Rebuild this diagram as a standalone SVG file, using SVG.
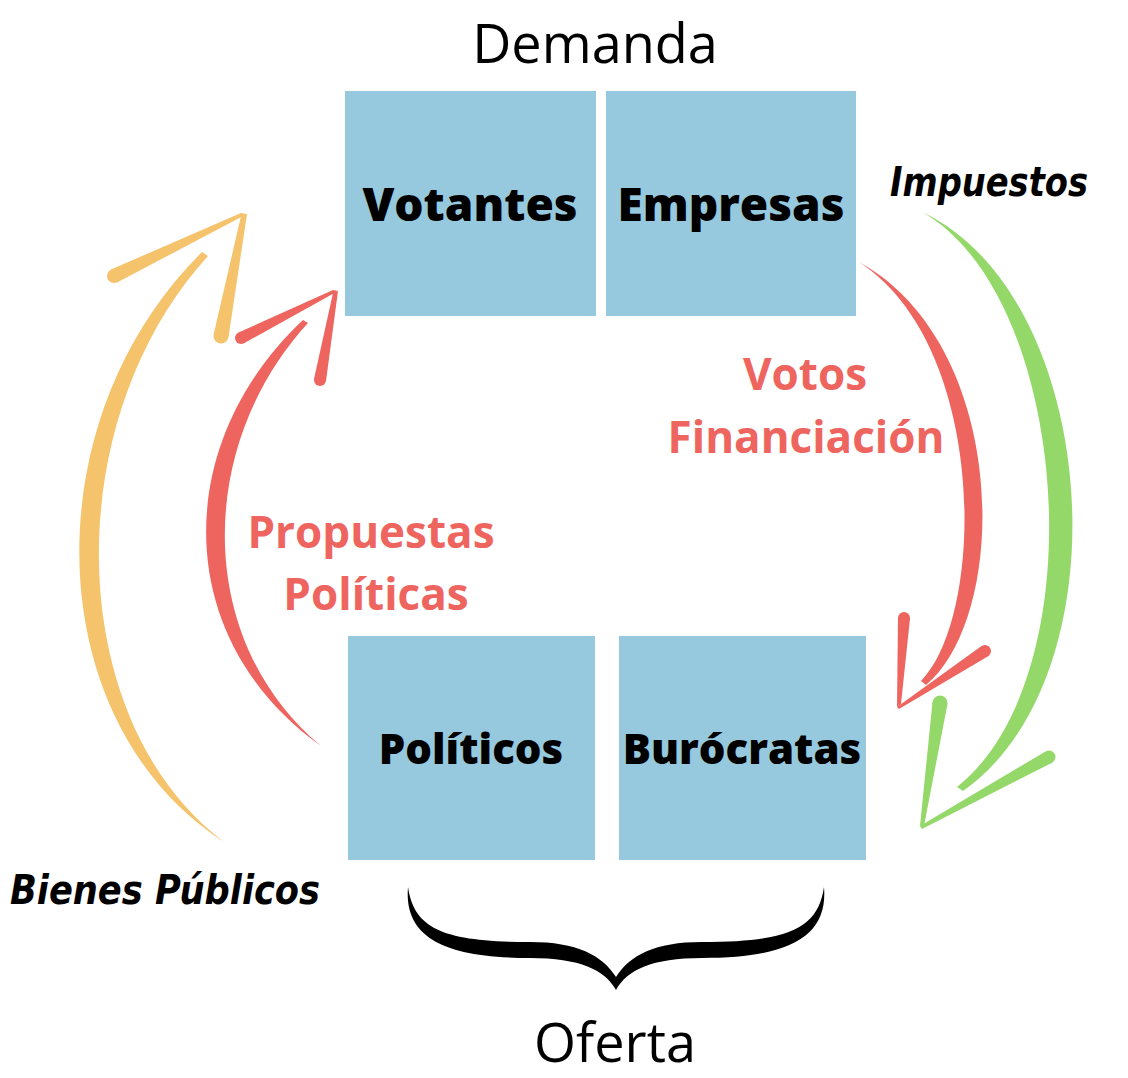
<svg xmlns="http://www.w3.org/2000/svg" width="1128" height="1078" viewBox="0 0 1128 1078">
<style>
.box{fill:#96c9de}
.lbl{font-family:"Open Sans","Liberation Sans",sans-serif;font-weight:800;fill:#000;text-anchor:middle}
.red{font-family:"Open Sans","Liberation Sans",sans-serif;font-weight:700;fill:#ee6560;text-anchor:middle;font-size:44px}
.title{font-family:"Open Sans","Liberation Sans",sans-serif;font-weight:400;fill:#000;text-anchor:middle;font-size:54px}
.script{font-family:"DejaVu Sans",sans-serif;font-weight:700;font-style:italic;fill:#000;font-size:40px}
.y{fill:#f4c36c}
.r{fill:#ee6560}
.g{fill:#95d86a}
</style>
<rect width="1128" height="1078" fill="#fff"/>
<text class="title" x="595" y="63">Demanda</text>
<text class="title" x="615" y="1062">Oferta</text>
<g id="votantes"><rect class="box" x="345" y="91" width="251" height="225"/><text class="lbl" x="470" y="221" font-size="46">Votantes</text></g>
<g id="empresas"><rect class="box" x="606" y="91" width="250" height="225"/><text class="lbl" x="731" y="221" font-size="46">Empresas</text></g>
<g id="politicos"><rect class="box" x="348" y="636" width="247" height="224"/><text class="lbl" x="471" y="764" font-size="42">Políticos</text></g>
<g id="burocratas"><rect class="box" x="619" y="636" width="247" height="224"/><text class="lbl" x="742" y="764" font-size="42">Burócratas</text></g>
<g id="connectors">
<g id="bienes-publicos">
<path class="y" d="M224,842 C38,722 32,420 202,252 L208,256 C58,420 62,720 224,842 Z"/>
<path class="y" d="M247,214 L117,282.5 L111,269.5 L241,213 Z"/><circle class="y" cx="114" cy="276" r="7"/>
<path class="y" d="M247,214 L228.5,337 L213.5,335 L241,216 Z"/><circle class="y" cx="221" cy="336" r="7.5"/>
</g>
<g id="propuestas">
<path class="r" d="M321,746 C172,640 170,445 303,320 L308,323 C196,445 194,640 321,746 Z"/>
<path class="r" d="M338,291 L243.5,343.5 L238.5,332.5 L333,290 Z"/><circle class="r" cx="241" cy="338" r="6"/>
<path class="r" d="M338,291 L326,381 L314,379 L333,293 Z"/><circle class="r" cx="320" cy="380" r="6"/>
</g>
<g id="votos">
<path class="r" d="M859,262 C1010,345 1010,615 926,685 L921,681 C986,615 988,345 859,262 Z"/>
<path class="r" d="M897,707 L898,617.5 L910,618.5 L901,704 Z"/><circle class="r" cx="904" cy="618" r="6"/>
<path class="r" d="M897,707 L981.5,646 L988.5,656 L899,709 Z"/><circle class="r" cx="985" cy="651" r="6"/>
</g>
<g id="impuestos">
<path class="g" d="M922,212 C1100,295 1128,675 963,791 L957,787 C1098,675 1070,295 922,212 Z"/>
<path class="g" d="M920,826 L932.5,702 L947.5,704 L924,826 Z"/><circle class="g" cx="940" cy="703" r="7.5"/>
<path class="g" d="M920,826 L1045.5,751.5 L1052.5,762.5 L922,829 Z"/><circle class="g" cx="1049" cy="757" r="6.5"/>
</g>
</g>
<text class="red" x="805" y="390">Votos</text>
<text class="red" x="806" y="453">Financiación</text>
<text class="red" x="371" y="548">Propuestas</text>
<text class="red" x="376" y="610">Políticas</text>
<text class="script" x="890" y="196" textLength="198" lengthAdjust="spacingAndGlyphs">Impuestos</text>
<text class="script" x="10" y="904" textLength="310" lengthAdjust="spacingAndGlyphs">Bienes Públicos</text>
<g id="brace">
<path fill="#000" d="M408,887 C404,935 440,958 530,958 C580,958 605,970 616,990 C627,970 652,958 702,958 C792,958 828,935 824,887 C818,928 790,942 702,942 C655,942 630,955 616,977 C602,955 577,942 530,942 C442,942 414,928 408,887 Z"/>
</g>
</svg>
